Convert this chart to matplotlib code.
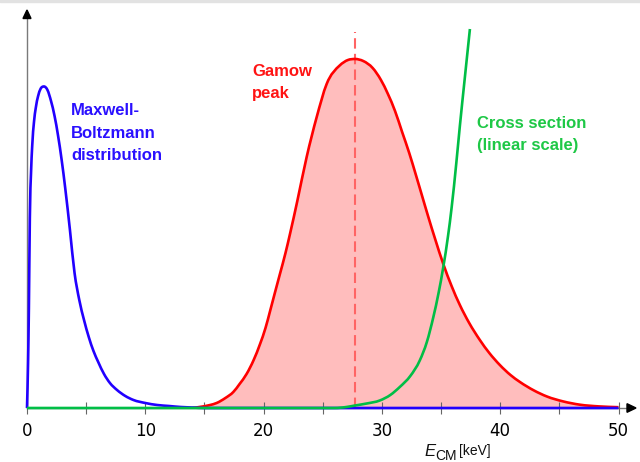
import matplotlib
matplotlib.use("Agg")
import matplotlib.pyplot as plt
from matplotlib.patches import Polygon, Rectangle, PathPatch
from matplotlib.path import Path

# Energies in keV, curve heights in arbitrary units
mb_energy = [0.0, 0.09, 0.16, 0.24, 0.34, 0.44, 0.59, 0.74, 0.94, 1.14, 1.44,
             1.73, 2.03, 2.33, 2.63, 2.93, 3.23, 3.63, 4.02, 4.42, 4.82, 5.22,
             5.62, 6.02, 6.51, 7.01, 7.61, 8.31, 9.0, 10.0, 11.0, 12.0, 13.0,
             14.0, 15.0, 50.0]
mb_value = [0, 45, 100, 190, 235, 262, 286, 300, 312, 319, 321.5,
            318, 307, 292, 272, 248, 220, 178, 135, 108, 88, 71,
            57, 46, 34, 25, 18, 12, 8, 5, 3, 2, 1,
            0.5, 0, 0]

gamow_energy = [14.0, 14.58, 15.48, 16.03, 16.77, 17.44, 17.97, 18.56, 19.16,
                19.70, 20.16, 20.56, 20.95, 21.38, 21.85, 22.23, 22.85, 23.64,
                24.49, 25.33, 26.43, 27.13, 27.73, 28.42, 29.22, 29.92, 30.51,
                31.11, 31.71, 32.31, 32.90, 33.40, 33.90, 34.50, 35.19, 35.89,
                36.59, 37.38, 38.28, 39.08, 39.97, 40.87, 41.67, 42.86, 43.95,
                45.35, 46.74, 48.34, 50.0]
gamow_value = [0, 1, 3, 5, 10, 16, 24, 34, 48,
               64, 80, 97.5, 115, 134, 155, 174, 207, 251,
               291, 324, 342.5, 348, 349, 347, 340, 328, 314,
               297, 276, 255, 232, 212, 192, 169, 144, 122,
               103, 85, 68, 55, 43, 33, 26, 17.5, 11.5,
               6.5, 3.3, 1.6, 0.8]

sigma_energy = [0.0, 26.0, 27.0, 27.73, 28.72, 29.82, 30.71, 31.51, 32.4, 33.2,
                33.8, 34.35, 34.79, 35.19, 35.59, 35.89, 36.29, 36.59, 36.99,
                37.44]
sigma_value = [0, 0, 1, 2.5, 4.5, 7.5, 13, 21, 32, 47.5,
               66, 91, 115, 141, 172, 200, 245, 282, 328,
               379]

gamow_peak_energy = 27.7
gamow_peak_top = 376

major_ticks = [0, 10, 20, 30, 40, 50]
major_labels = ["0", "10", "20", "30", "40", "50"]
minor_ticks = [5, 15, 25, 35, 45]

BLUE = "#2200ff"
BLUE_TXT = "#2a10ff"
RED = "#ff0000"
RED_TXT = "#ff1414"
FILL = "#ffbdbd"
DASH = "#ff6464"
GREEN = "#00be46"
GREEN_TXT = "#1ec846"
AXIS_GRAY = "#7a7a7a"


def smooth_path(xs, ys, close_to_base=False):
    """Shape-preserving cubic Hermite curve through the points, as a Bezier path."""
    n = len(xs)
    h = [xs[k + 1] - xs[k] for k in range(n - 1)]
    d = [(ys[k + 1] - ys[k]) / h[k] for k in range(n - 1)]
    m = [0.0] * n
    m[0], m[-1] = d[0], d[-1]
    for k in range(1, n - 1):
        if d[k - 1] * d[k] <= 0:
            m[k] = 0.0
            continue
        mk = (h[k] * d[k - 1] + h[k - 1] * d[k]) / (h[k - 1] + h[k])
        lim = 3 * min(abs(d[k - 1]), abs(d[k]))
        m[k] = max(-lim, min(lim, mk))
    verts = [(xs[0], ys[0])]
    codes = [Path.MOVETO]
    for k in range(n - 1):
        t = h[k] / 3
        verts += [(xs[k] + t, ys[k] + m[k] * t),
                  (xs[k + 1] - t, ys[k + 1] - m[k + 1] * t),
                  (xs[k + 1], ys[k + 1])]
        codes += [Path.CURVE4] * 3
    if close_to_base:
        verts += [(xs[-1], 0), (xs[0], 0), (xs[0], ys[0])]
        codes += [Path.LINETO, Path.LINETO, Path.CLOSEPOLY]
    return Path(verts, codes)


W, H = 640, 462
fig = plt.figure(figsize=(W / 100, H / 100), dpi=100)

x0_px, x50_px = 27.0, 618.5
base_px, top_px = 408.0, 8.0
ax = fig.add_axes([x0_px / W, 1 - base_px / H,
                   (x50_px - x0_px) / W, (base_px - top_px) / H])
ax.set_xlim(0, 50)
ax.set_ylim(0, base_px - top_px)
for s in ax.spines.values():
    s.set_visible(False)
ax.patch.set_alpha(0)

kev_per_px = 50 / (x50_px - x0_px)

# axes with arrow heads
ax.plot([0, 0], [0, 390], color=AXIS_GRAY, lw=1.0, clip_on=False, zorder=0)
ax.add_patch(Polygon([(-4 * kev_per_px, 389.5), (4 * kev_per_px, 389.5), (0, 398)],
                     closed=True, color="black", clip_on=False, zorder=6))
x_end = (627 - x0_px) * kev_per_px
x_tip = (636 - x0_px) * kev_per_px
ax.plot([0, x_end], [0, 0], color=AXIS_GRAY, lw=1.0, clip_on=False, zorder=0)
ax.add_patch(Polygon([(x_end, -4.3), (x_end, 4.3), (x_tip, 0)],
                     closed=True, color="black", clip_on=False, zorder=6))

ax.set_xticks(major_ticks)
ax.set_xticklabels(major_labels, fontsize=12, family="DejaVu Sans")
ax.set_xticks(minor_ticks, minor=True)
ax.set_yticks([])
ax.tick_params(axis="x", which="both", direction="inout", length=8.6,
               width=0.8, color="#666666", pad=6)

# Gamow peak with shaded area
ax.add_patch(PathPatch(smooth_path(gamow_energy, gamow_value, close_to_base=True),
                       facecolor=FILL, edgecolor="none", lw=0, zorder=1))
ax.plot([gamow_peak_energy, gamow_peak_energy], [0, gamow_peak_top],
        color=DASH, lw=1.5, ls=(0, (5, 2.5)), zorder=2)
ax.add_patch(PathPatch(smooth_path(gamow_energy, gamow_value), facecolor="none",
                       edgecolor=RED, lw=1.9, zorder=3, capstyle="butt"))
ax.add_patch(PathPatch(smooth_path(mb_energy, mb_value), facecolor="none",
                       edgecolor=BLUE, lw=1.9, zorder=4, clip_on=False,
                       capstyle="butt"))
ax.add_patch(PathPatch(smooth_path(sigma_energy, sigma_value), facecolor="none",
                       edgecolor=GREEN, lw=1.9, zorder=5, clip_on=False,
                       capstyle="butt"))


def put(x, y, s, **kw):
    fig.text(x / W, 1 - y / H, s, va="baseline", ha="left", **kw)


bold = dict(family="Liberation Sans", fontweight="bold", fontsize=12)
put(71, 115, "Maxwell-", color=BLUE_TXT, **bold)
put(71, 137.5, "Boltzmann", color=BLUE_TXT, **bold)
put(71, 160, "distribution", color=BLUE_TXT, **bold)
put(252, 76.5, "Gamow", color=RED_TXT, **bold)
put(252, 98, "peak", color=RED_TXT, **bold)
put(477, 128.5, "Cross section", color=GREEN_TXT, **bold)
put(477, 150, "(linear scale)", color=GREEN_TXT, **bold)

# axis title E_CM [keV]
put(424, 456.5, "E", family="Liberation Sans", style="italic", fontsize=12,
    color="#111111")
put(435.5, 460.5, "CM", family="Liberation Sans", fontsize=10, color="#111111")
put(459, 455.5, "[keV]", family="Liberation Sans", fontsize=10, color="#111111")

# thin shaded top edge
fig.patches.append(Rectangle((0, 1 - 2 / H), 1, 2 / H, transform=fig.transFigure,
                             color="#e2e2e2", zorder=0))

fig.savefig("out.png", dpi=100)
